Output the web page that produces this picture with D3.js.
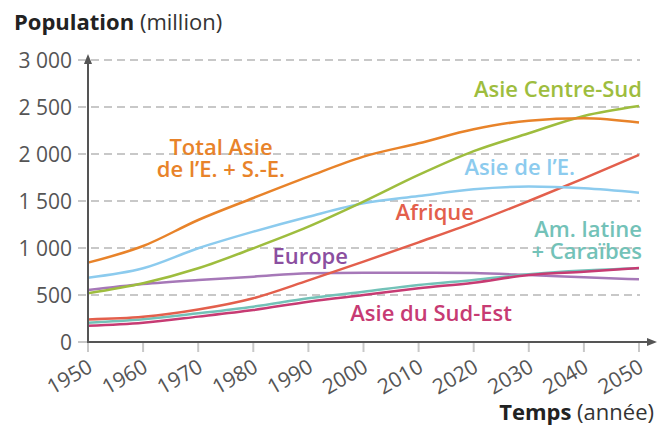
<!DOCTYPE html>
<html>
<head>
<meta charset="utf-8">
<script src="https://cdn.jsdelivr.net/npm/d3@7"></script>
<style>
  body { margin: 0; background: #fff; }
  svg { font-family: "Open Sans", "Noto Sans", sans-serif; }
</style>
</head>
<body>
<svg id="chart" width="671" height="427"></svg>
<script>
const years = [1950, 1960, 1970, 1980, 1990, 2000, 2010, 2020, 2030, 2040, 2050];
const totalAsie = [844, 1021, 1298, 1532, 1759, 1972, 2114, 2263, 2355, 2380, 2334];
const centreSud = [518, 624, 784, 997, 1227, 1493, 1777, 2030, 2221, 2405, 2511];
const asieEst = [684, 784, 997, 1174, 1333, 1476, 1553, 1625, 1653, 1635, 1589];
const europe = [553, 617, 660, 695, 731, 737, 737, 733, 713, 688, 667];
const afrique = [240, 268, 345, 465, 655, 855, 1060, 1270, 1500, 1740, 1990];
const latAm = [205, 241, 305, 376, 465, 535, 606, 660, 720, 760, 784];
const seAsia = [174, 206, 270, 340, 429, 500, 571, 631, 713, 748, 786];
const yTicks = [0, 500, 1000, 1500, 2000, 2500, 3000];

const series = [
  { values: europe, color: "#a678b8" },
  { values: latAm, color: "#73c2b8" },
  { values: seAsia, color: "#c73b73" },
  { values: afrique, color: "#e35f4c" },
  { values: asieEst, color: "#8ccbee" },
  { values: centreSud, color: "#9ebd3e" },
  { values: totalAsie, color: "#e8832a" }
];

const labels = [
  { lines: ["Total Asie", "de l\u2019E. + S.-E."], x: 221, y: 155, anchor: "middle", color: "#e8832a" },
  { lines: ["Asie Centre-Sud"], x: 642, y: 97, anchor: "end", color: "#9ebd3e" },
  { lines: ["Asie de l\u2019E."], x: 575, y: 175, anchor: "end", color: "#8ccbee" },
  { lines: ["Afrique"], x: 474, y: 220, anchor: "end", color: "#e35f4c" },
  { lines: ["Am. latine", "+ Cara\u00efbes"], x: 642, y: 237, anchor: "end", color: "#73c2b8" },
  { lines: ["Europe"], x: 348, y: 264, anchor: "end", color: "#8b4fa0" },
  { lines: ["Asie du Sud-Est"], x: 512, y: 321, anchor: "end", color: "#c73b73" }
];

const svg = d3.select("#chart");

const x = d3.scaleLinear().domain([1950, 2050]).range([88, 639]);
const y = d3.scaleLinear().domain([0, 3000]).range([342, 60]);

// grid
svg.append("g")
  .selectAll("line")
  .data(yTicks)
  .enter()
  .append("line")
  .attr("x1", 78)
  .attr("x2", 640)
  .attr("y1", d => y(d))
  .attr("y2", d => y(d))
  .attr("stroke", "#c8c8c8")
  .attr("stroke-width", 2)
  .attr("stroke-dasharray", d => d === 0 ? null : "8,5");

// y tick labels
svg.append("g")
  .selectAll("text")
  .data(yTicks)
  .enter()
  .append("text")
  .attr("x", 72)
  .attr("y", d => y(d) + 7.5)
  .attr("text-anchor", "end")
  .attr("font-size", 21)
  .attr("fill", "#555")
  .text(d => d3.format(",")(d).replace(",", " "));

// x ticks
const xAxis = svg.append("g");
xAxis.selectAll("line")
  .data(years)
  .enter()
  .append("line")
  .attr("x1", d => x(d))
  .attr("x2", d => x(d))
  .attr("y1", 343)
  .attr("y2", 352)
  .attr("stroke", "#c8c8c8")
  .attr("stroke-width", 2);

xAxis.selectAll("text")
  .data(years)
  .enter()
  .append("text")
  .attr("transform", d => `translate(${x(d) + 6},371) rotate(-30)`)
  .attr("text-anchor", "end")
  .attr("font-size", 21)
  .attr("fill", "#555")
  .text(d => d);

// lines
const line = d3.line()
  .x((d, i) => x(years[i]))
  .y(d => y(d))
  .curve(d3.curveMonotoneX);

svg.append("g")
  .selectAll("path")
  .data(series)
  .enter()
  .append("path")
  .attr("d", d => line(d.values))
  .attr("fill", "none")
  .attr("stroke", d => d.color)
  .attr("stroke-width", 2.5);

// axes with arrows
svg.append("line")
  .attr("x1", 88).attr("x2", 88)
  .attr("y1", 343).attr("y2", 62)
  .attr("stroke", "#555").attr("stroke-width", 2);
svg.append("path")
  .attr("d", "M88,54 L84,64 L92,64 Z")
  .attr("fill", "#555");
svg.append("line")
  .attr("x1", 87).attr("x2", 648)
  .attr("y1", 342).attr("y2", 342)
  .attr("stroke", "#555").attr("stroke-width", 2);
svg.append("path")
  .attr("d", "M657,342 L647,338 L647,346 Z")
  .attr("fill", "#555");

// series labels
labels.forEach(l => {
  const t = svg.append("text")
    .attr("x", l.x)
    .attr("y", l.y)
    .attr("text-anchor", l.anchor)
    .attr("font-size", 22)
    .attr("font-weight", 600)
    .attr("fill", l.color);
  l.lines.forEach((s, i) => {
    t.append("tspan")
      .attr("x", l.x)
      .attr("dy", i === 0 ? 0 : 22)
      .text(s);
  });
});

// titles
const title = svg.append("text")
  .attr("x", 14).attr("y", 30)
  .attr("font-size", 22)
  .attr("fill", "#222");
title.append("tspan").attr("font-weight", 700).text("Population");
title.append("tspan").attr("fill", "#333").text(" (million)");

const xTitle = svg.append("text")
  .attr("x", 654).attr("y", 420)
  .attr("text-anchor", "end")
  .attr("font-size", 22)
  .attr("fill", "#222");
xTitle.append("tspan").attr("font-weight", 700).text("Temps");
xTitle.append("tspan").attr("fill", "#333").text(" (ann\u00e9e)");
</script>
</body>
</html>
